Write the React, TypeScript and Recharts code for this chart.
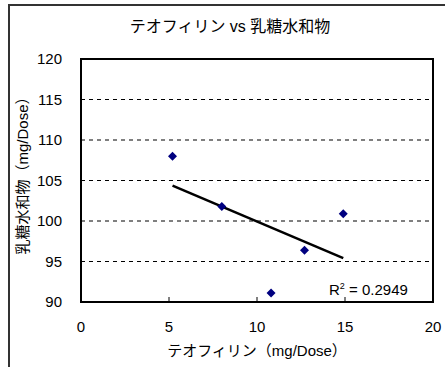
import React from 'react';
import {
  ScatterChart,
  Scatter,
  XAxis,
  YAxis,
  CartesianGrid,
  ReferenceArea,
} from 'recharts';

// Measured doses per sample (mg/Dose)
const theophylline = [5.2, 8.0, 10.8, 12.7, 14.9];
const lactoseHydrate = [108.0, 101.8, 91.1, 96.4, 100.9];

const xTicks = [0, 5, 10, 15, 20];
const yTicks = [90, 95, 100, 105, 110, 115, 120];

const chartTitle = 'テオフィリン vs 乳糖水和物';
const xTitle = 'テオフィリン（mg/Dose）';
const yTitle = '乳糖水和物（mg/Dose）';
const r2Label = '0.2949';

const FONT = "'Liberation Sans', 'Noto Sans CJK JP', sans-serif";

const points = theophylline.map((x, i) => ({ x, y: lactoseHydrate[i] }));

// Least-squares linear trendline spanning the observed x range
function linearTrend(xs: number[], ys: number[]) {
  const n = xs.length;
  const mx = xs.reduce((a, b) => a + b, 0) / n;
  const my = ys.reduce((a, b) => a + b, 0) / n;
  let sxy = 0;
  let sxx = 0;
  for (let i = 0; i < n; i++) {
    sxy += (xs[i] - mx) * (ys[i] - my);
    sxx += (xs[i] - mx) * (xs[i] - mx);
  }
  const slope = sxy / sxx;
  const xmin = Math.min(...xs);
  const xmax = Math.max(...xs);
  return [
    { x: xmin, y: my + slope * (xmin - mx) },
    { x: xmax, y: my + slope * (xmax - mx) },
  ];
}

const trend = linearTrend(theophylline, lactoseHydrate);

const Diamond = (props: any) => {
  const { cx, cy } = props;
  if (cx == null || cy == null) return null;
  const r = 4.5;
  return (
    <path
      d={`M${cx},${cy - r}L${cx + r},${cy}L${cx},${cy + r}L${cx - r},${cy}Z`}
      fill="#000080"
    />
  );
};

const XTick = (props: any) => {
  const { x, y, payload } = props;
  const axisY = y - 19;
  const inner = payload.value !== 0 && payload.value !== 20;
  return (
    <g>
      {inner && <line x1={x} x2={x} y1={axisY} y2={axisY - 5} stroke="#000" strokeWidth={1} />}
      <text x={x} y={y} dy="0.71em" textAnchor="middle" fontSize={15} fontFamily={FONT} fill="#000">
        {payload.value}
      </text>
    </g>
  );
};

export default function App() {
  return (
    <div style={{ position: 'absolute', left: 0, top: 0, width: 445, height: 367, background: '#fff', fontFamily: FONT }}>
      <div
        style={{
          position: 'absolute',
          left: 8,
          top: 4,
          width: 445,
          height: 361,
          borderLeft: '2px solid #333',
          borderTop: '2px solid #333',
          borderBottom: '2px solid #333',
        }}
      />
      <div
        style={{
          position: 'absolute',
          left: 0,
          top: 16,
          width: 460,
          textAlign: 'center',
          fontSize: 16,
          lineHeight: '22px',
          color: '#000',
        }}
      >
        {chartTitle}
      </div>
      <div style={{ position: 'absolute', left: 0, top: 0 }}>
        <ScatterChart width={445} height={367} margin={{ top: 59, right: 12, left: 21, bottom: 25 }}>
          <CartesianGrid vertical={false} stroke="#000" strokeDasharray="4 4" />
          <XAxis
            type="number"
            dataKey="x"
            domain={[0, 20]}
            ticks={xTicks}
            axisLine={false}
            tickLine={false}
            tickSize={0}
            tickMargin={19}
            height={40}
            tick={<XTick />}
            label={{
              content: () => (
                <text x={257} y={350} textAnchor="middle" dominantBaseline="central" fontSize={15} fontFamily={FONT} fill="#000">
                  {xTitle}
                </text>
              ),
            }}
          />
          <YAxis
            type="number"
            dataKey="y"
            domain={[90, 120]}
            ticks={yTicks}
            axisLine={false}
            tickLine={false}
            tickSize={0}
            tickMargin={19}
            width={60}
            tick={{ fontSize: 15, fontFamily: FONT, fill: '#000' }}
            label={{
              content: () => (
                <text
                  transform="translate(22,172) rotate(-90)"
                  textAnchor="middle"
                  dominantBaseline="central"
                  fontSize={15}
                  fontFamily={FONT}
                  fill="#000"
                >
                  {yTitle}
                </text>
              ),
            }}
          />
          <ReferenceArea x1={0} x2={20} y1={90} y2={120} fill="none" stroke="#000" strokeWidth={2} />
          <Scatter
            data={trend}
            line={{ stroke: '#000', strokeWidth: 2.5 }}
            shape={() => null}
            isAnimationActive={false}
          />
          <Scatter data={points} shape={<Diamond />} isAnimationActive={false} />
        </ScatterChart>
      </div>
      <div
        style={{
          position: 'absolute',
          left: 329,
          top: 280,
          fontSize: 15,
          lineHeight: '20px',
          color: '#000',
          background: 'transparent',
        }}
      >
        R<sup style={{ fontSize: 9, verticalAlign: 'top', lineHeight: '12px' }}>2</sup> = {r2Label}
      </div>
    </div>
  );
}
